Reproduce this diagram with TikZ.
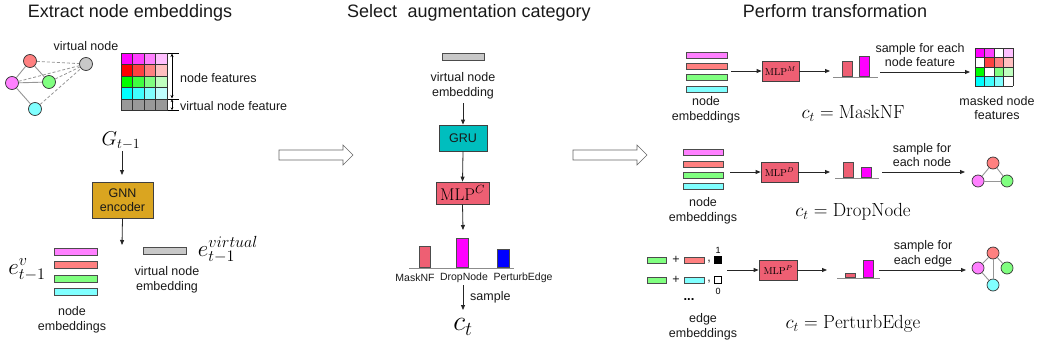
\RequirePackage{fix-cm}
\documentclass[tikz,border=0pt]{standalone}
\usepackage{fontspec}
\newfontfamily\lab{Liberation Sans}
\usetikzlibrary{arrows.meta}
\definecolor{cmag}{RGB}{255,128,255}
\definecolor{cred}{RGB}{255,128,128}
\definecolor{cgrn}{RGB}{128,255,128}
\definecolor{ccyn}{RGB}{128,255,255}
\definecolor{cgry}{RGB}{200,200,200}
\definecolor{mlp}{RGB}{238,95,115}
\definecolor{gru}{RGB}{0,190,190}
\definecolor{gnn}{RGB}{218,165,32}
\definecolor{pmag}{RGB}{255,0,255}
\definecolor{pblu}{RGB}{0,0,255}
\definecolor{edgegray}{RGB}{150,150,150}
\begin{document}
\begin{tikzpicture}[x=1pt,y=-1pt,
  txt/.style={font=\lab\fontsize{12.5}{14.5}\selectfont, inner sep=0pt, align=center, text=black!90},
  ttl/.style={font=\lab\fontsize{18}{20}\selectfont, inner sep=0pt, anchor=base, text=black!90},
  small/.style={font=\lab\fontsize{10.5}{12}\selectfont, inner sep=0pt, text=black!90},
  box/.style={draw=black!75, line width=0.8pt, inner sep=0pt},
  ebar/.style={draw=black!70, line width=0.8pt, inner sep=0pt, minimum height=6pt},
  pbar/.style={draw=black!70, line width=0.7pt, inner sep=0pt, anchor=south},
  gn/.style={circle, draw=black!80, line width=0.7pt, minimum size=13pt, inner sep=0pt},
  sedge/.style={draw=edgegray, line width=0.9pt},
  dedge/.style={draw=edgegray, line width=0.8pt, dash pattern=on 3pt off 2pt},
  arr/.style={-{Triangle[length=5pt,width=4pt]}, line width=0.8pt, draw=black!85},
  base/.style={draw=black!45, line width=0.9pt},
  gridline/.style={draw=black!80, line width=0.6pt},
  hollow/.style={draw=black!60, line width=0.6pt, fill=white}
]
\useasboundingbox (0,0) rectangle (1038,348);

% ---------------- titles
\node[ttl] (t1) at (130,17) {Extract node embeddings};
\node[ttl] (t2) at (469,17) {Select\hspace{0.3em} augmentation category};
\node[ttl] (t3) at (835,17) {Perform transformation};

% ---------------- left: graph with virtual node
\node[gn, fill=cred] (gr) at (30,61) {};
\node[gn, fill=cmag] (gm) at (12,83) {};
\node[gn, fill=cgrn] (gg) at (49,82) {};
\node[gn, fill=ccyn] (gc) at (35,109) {};
\node[gn, fill=cgry] (gv) at (86,64) {};
\draw[sedge] (gr) -- (gm);
\draw[sedge] (gr) -- (gg);
\draw[sedge] (gm) -- (gg);
\draw[sedge] (gm) -- (gc);
\draw[dedge] (gr) -- (gv);
\draw[dedge] (gm) -- (gv);
\draw[dedge] (gg) -- (gv);
\draw[dedge] (gc) -- (gv);
\node[txt] (vnl) at (86,46) {virtual node};

% feature matrix
\def\cw{11.5}
\foreach \r/\g/\b [count=\i from 0] in {255/0/255,255/64/255,255/128/255,255/192/255}{
  \definecolor{tmp}{RGB}{\r,\g,\b}
  \fill[tmp] (121+\i*\cw,53) rectangle ++(\cw,\cw);}
\foreach \r/\g/\b [count=\i from 0] in {255/0/0,255/64/64,255/128/128,255/192/192}{
  \definecolor{tmp}{RGB}{\r,\g,\b}
  \fill[tmp] (121+\i*\cw,64.5) rectangle ++(\cw,\cw);}
\foreach \r/\g/\b [count=\i from 0] in {0/255/0,64/255/64,128/255/128,192/255/192}{
  \definecolor{tmp}{RGB}{\r,\g,\b}
  \fill[tmp] (121+\i*\cw,76) rectangle ++(\cw,\cw);}
\foreach \r/\g/\b [count=\i from 0] in {0/255/255,64/255/255,128/255/255,192/255/255}{
  \definecolor{tmp}{RGB}{\r,\g,\b}
  \fill[tmp] (121+\i*\cw,87.5) rectangle ++(\cw,\cw);}
\fill[black!40] (121,99) rectangle (167,110.5);
\foreach \k in {0,...,4} \draw[gridline] (121+\k*\cw,53) -- (121+\k*\cw,110.5);
\foreach \k in {0,...,5} \draw[gridline] (121,53+\k*\cw) -- (167,53+\k*\cw);
% bracket
\draw[line width=0.8pt] (168,53) -- (179,53) (168,99) -- (179,99) (168,110.5) -- (179,110.5);
\draw[{Stealth[length=3.5pt,width=3pt]}-{Stealth[length=3.5pt,width=3pt]}, line width=0.7pt] (172,53.5) -- (172,98.5);
\draw[{Stealth[length=2.5pt,width=2.5pt]}-{Stealth[length=2.5pt,width=2.5pt]}, line width=0.6pt] (172,99.5) -- (172,110);
\node[txt, anchor=west] (nfl) at (180,78) {node features};
\node[txt, anchor=west] (vnfl) at (180,106) {virtual node feature};

% G, encoder
\node[inner sep=0pt, font=\fontsize{20}{22}\selectfont] (G) at (121,141) {$G_{t-1}$};
\node[box, fill=gnn, minimum width=61pt, minimum height=36pt, txt] (enc) at (122.5,200) {GNN\\encoder};
\draw[arr] (122,151) -- (122,175);
\coordinate (encout) at (122,245);
\draw[arr] (enc.south) -- (encout);

% node embeddings
\node[ebar, minimum width=43pt, minimum height=7pt, fill=cmag] (e1) at (75.5,251.5) {};
\node[ebar, minimum width=43pt, minimum height=7pt, fill=cred] (e2) at (75.5,265) {};
\node[ebar, minimum width=43pt, minimum height=7pt, fill=cgrn] (e3) at (75.5,278.5) {};
\node[ebar, minimum width=43pt, minimum height=7pt, fill=ccyn] (e4) at (75.5,292) {};
\node[inner sep=0pt, font=\fontsize{23}{25}\selectfont] (ev) at (27,270) {$e^{v}_{t-1}$};
\node[txt] (nel) at (72,320) {node\\embeddings};
\node[ebar, minimum width=43pt, minimum height=7pt, fill=cgry] (vb) at (164.5,251) {};
\node[inner sep=0pt, font=\fontsize{23}{25}\selectfont] (evv) at (228,250) {$e^{virtual}_{t-1}$};
\node[txt] (vel) at (167,280) {virtual node\\embedding};

% hollow arrows
\draw[hollow] (279,150) -- (343,150) -- (343,145) -- (353,155) -- (343,165) -- (343,160) -- (279,160) -- cycle;
\draw[hollow] (573,150) -- (637,150) -- (637,145) -- (647,155) -- (637,165) -- (637,160) -- (573,160) -- cycle;

% ---------------- middle
\node[ebar, minimum width=42pt, minimum height=7pt, fill=cgry] (vb2) at (463,56.5) {};
\node[txt] (vel2) at (463,86) {virtual node\\embedding};
\node[box, fill=gru, minimum width=48pt, minimum height=26pt, txt] (gruN) at (463,138) {GRU};
\node[box, fill=mlp, minimum width=53pt, minimum height=22pt, font=\fontsize{17}{19}\selectfont] (mlpc) at (462.5,193) {$\mathrm{MLP}^{C}$};
\coordinate (gin) at (463,103);
\draw[arr] (gin) -- (gruN.north);
\draw[arr] (gruN.south) -- (mlpc.north);
\coordinate (mcout) at (463,230);
\draw[arr] (mlpc.south) -- (mcout);
\draw[base] (409,268) -- (514,268);
\node[pbar, fill=mlp, minimum width=11pt, minimum height=21pt] (cb1) at (424.5,268) {};
\node[pbar, fill=pmag, minimum width=12pt, minimum height=29pt] (cb2) at (462,268) {};
\node[pbar, fill=pblu, minimum width=12pt, minimum height=18pt] (cb3) at (503,268) {};
\node[small] (l1) at (415,278) {MaskNF};
\node[small] (l2) at (464,278) {DropNode};
\node[small] (l3) at (523,278) {PerturbEdge};
\coordinate (smp) at (463,285);
\node[inner sep=0pt, font=\fontsize{28}{30}\selectfont] (ct) at (463,327) {$c_t$};
\coordinate (ctin) at (463,310);
\draw[arr] (smp) -- (ctin);
\node[txt, anchor=west] (sl) at (470,297) {sample};

% ---------------- right row 1: MaskNF
\node[ebar, minimum width=41pt, fill=cmag] (r1a) at (706.5,55) {};
\node[ebar, minimum width=41pt, fill=cred] (r1b) at (706.5,66) {};
\node[ebar, minimum width=41pt, fill=cgrn] (r1c) at (706.5,77.5) {};
\node[ebar, minimum width=41pt, fill=ccyn] (r1d) at (706.5,89) {};
\node[txt] (r1l) at (706,110) {node\\embeddings};
\node[box, fill=mlp, minimum width=37pt, minimum height=20pt, font=\fontsize{10}{12}\selectfont] (mlpm) at (780.5,71) {$\mathrm{MLP}^{M}$};
\coordinate (r1s) at (731,71);
\draw[arr] (r1s) -- (mlpm.west);
\coordinate (r1p) at (830,71);
\draw[arr] (mlpm.east) -- (r1p);
\draw[base] (833,77) -- (878,77);
\node[pbar, fill=mlp, minimum width=10pt, minimum height=15pt] (m1) at (847,77) {};
\node[pbar, fill=pmag, minimum width=10pt, minimum height=20pt] (m2) at (864,77) {};
\coordinate (r1q) at (880,72);
\coordinate (r1t) at (970,72);
\draw[arr] (r1q) -- (r1t);
\node[txt] (r1sl) at (920,55) {sample for each\\node feature};
% masked matrix
\def\mw{9.5}
\foreach \r/\g/\b [count=\i from 0] in {255/0/255,255/64/255,255/255/255,255/192/255}{
  \definecolor{tmp}{RGB}{\r,\g,\b}\fill[tmp] (975+\i*\mw,48) rectangle ++(\mw,\mw);}
\foreach \r/\g/\b [count=\i from 0] in {255/255/255,255/64/64,255/128/128,255/192/192}{
  \definecolor{tmp}{RGB}{\r,\g,\b}\fill[tmp] (975+\i*\mw,57.5) rectangle ++(\mw,\mw);}
\foreach \r/\g/\b [count=\i from 0] in {0/255/0,255/255/255,128/255/128,192/255/192}{
  \definecolor{tmp}{RGB}{\r,\g,\b}\fill[tmp] (975+\i*\mw,67) rectangle ++(\mw,\mw);}
\foreach \r/\g/\b [count=\i from 0] in {0/255/255,64/255/255,128/255/255,255/255/255}{
  \definecolor{tmp}{RGB}{\r,\g,\b}\fill[tmp] (975+\i*\mw,76.5) rectangle ++(\mw,\mw);}
\foreach \k in {0,...,4} \draw[gridline] (975+\k*\mw,48) -- (975+\k*\mw,86);
\foreach \k in {0,...,4} \draw[gridline] (975,48+\k*\mw) -- (1013,48+\k*\mw);
\node[txt] (mnl) at (997,108) {masked node\\features};
\node[inner sep=0pt, font=\fontsize{19}{21}\selectfont] (c1) at (853,113) {$c_t = \mathrm{MaskNF}$};

% ---------------- right row 2: DropNode
\node[ebar, minimum width=40pt, fill=cmag] (r2a) at (703,152) {};
\node[ebar, minimum width=40pt, fill=cred] (r2b) at (703,164) {};
\node[ebar, minimum width=40pt, fill=cgrn] (r2c) at (703,175) {};
\node[ebar, minimum width=40pt, fill=ccyn] (r2d) at (703,186) {};
\node[txt] (r2l) at (703,211) {node\\embeddings};
\node[box, fill=mlp, minimum width=37pt, minimum height=20pt, font=\fontsize{10}{12}\selectfont] (mlpd) at (779.5,172) {$\mathrm{MLP}^{D}$};
\coordinate (r2s) at (730,172);
\draw[arr] (r2s) -- (mlpd.west);
\coordinate (r2p) at (830,172);
\draw[arr] (mlpd.east) -- (r2p);
\draw[base] (835,178) -- (879,178);
\node[pbar, fill=mlp, minimum width=10pt, minimum height=15pt] (d1) at (848,178) {};
\node[pbar, fill=pmag, minimum width=10pt, minimum height=10pt] (d2) at (866,178) {};
\coordinate (r2q) at (882,172);
\coordinate (r2t) at (965,172);
\draw[arr] (r2q) -- (r2t);
\node[txt] (r2sl) at (922,155) {sample for\\each node};
\node[gn, minimum size=12pt, fill=cred] (dr) at (993,163) {};
\node[gn, minimum size=12pt, fill=cmag] (dm) at (978,181) {};
\node[gn, minimum size=12pt, fill=cgrn] (dg) at (1007,181) {};
\draw[sedge] (dr) -- (dm);
\draw[sedge] (dr) -- (dg);
\draw[sedge] (dm) -- (dg);
\node[inner sep=0pt, font=\fontsize{19}{21}\selectfont] (c2) at (853,212) {$c_t = \mathrm{DropNode}$};

% ---------------- right row 3: PerturbEdge
\node[ebar, minimum width=19pt, fill=cgrn] (p1a) at (656.5,260) {};
\node[txt] (pp1) at (676,260) {+};
\node[ebar, minimum width=20pt, fill=cred] (p1b) at (694,260) {};
\node[txt] (pc1) at (709,262) {,};
\node[draw=black, fill=black, line width=0.6pt, minimum size=7pt, inner sep=0pt] (sq1) at (717.5,260) {};
\node[font=\lab\fontsize{9}{10}\selectfont, inner sep=0pt] (one) at (718,250) {1};
\node[ebar, minimum width=19pt, fill=cgrn] (p2a) at (656.5,280) {};
\node[txt] (pp2) at (676,280) {+};
\node[ebar, minimum width=20pt, fill=ccyn] (p2b) at (694,280) {};
\node[txt] (pc2) at (709,282) {,};
\node[draw=black, fill=white, line width=0.6pt, minimum size=7pt, inner sep=0pt] (sq2) at (717.5,280) {};
\node[font=\lab\fontsize{9}{10}\selectfont, inner sep=0pt] (zero) at (718,291) {0};
\node[inner sep=0pt, font=\lab\bfseries\fontsize{13}{14}\selectfont] (dots) at (689,300) {...};
\node[txt] (r3l) at (703,327) {edge\\embeddings};
\node[box, fill=mlp, minimum width=38pt, minimum height=20pt, font=\fontsize{10}{12}\selectfont] (mlpp) at (778,270) {$\mathrm{MLP}^{P}$};
\coordinate (r3s) at (727,270);
\draw[arr] (r3s) -- (mlpp.west);
\coordinate (r3p) at (827,270);
\draw[arr] (mlpp.east) -- (r3p);
\draw[base] (837,278) -- (880,278);
\node[pbar, fill=mlp, minimum width=10pt, minimum height=4pt] (q1) at (850,278) {};
\node[pbar, fill=pmag, minimum width=10pt, minimum height=17pt] (q2) at (868,278) {};
\coordinate (r3q) at (879,270);
\coordinate (r3t) at (966,270);
\draw[arr] (r3q) -- (r3t);
\node[txt] (r3sl) at (923,254) {sample for\\each edge};
\node[gn, minimum size=12pt, fill=cred] (pr) at (993,253) {};
\node[gn, minimum size=12pt, fill=cmag] (pm) at (978,268) {};
\node[gn, minimum size=12pt, fill=cgrn] (pg) at (1007,268) {};
\node[gn, minimum size=12pt, fill=ccyn] (pc) at (993,285) {};
\draw[sedge] (pr) -- (pm);
\draw[sedge] (pr) -- (pg);
\draw[sedge] (pr) -- (pc);
\draw[sedge] (pm) -- (pc);
\node[inner sep=0pt, font=\fontsize{19}{21}\selectfont] (c3) at (853,324) {$c_t = \mathrm{PerturbEdge}$};
\end{tikzpicture}
\end{document}
